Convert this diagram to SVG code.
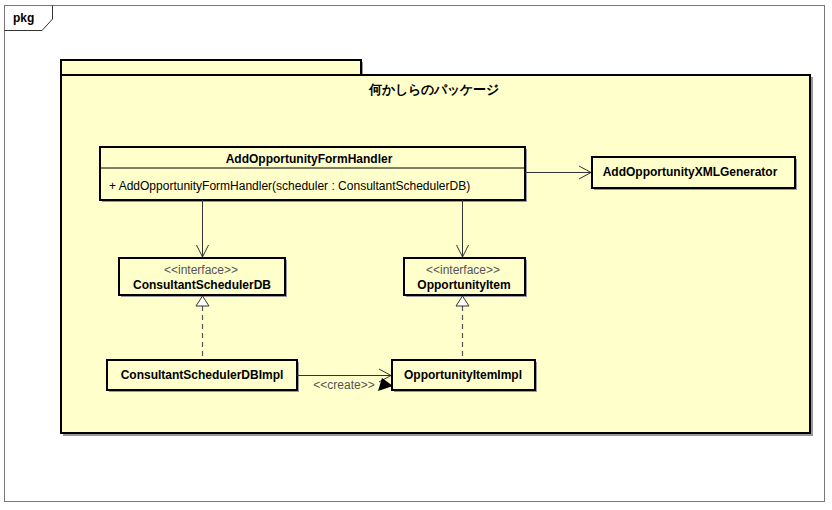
<svg xmlns="http://www.w3.org/2000/svg" width="832" height="510" viewBox="0 0 832 510">
<style>
.box{fill:#FFFFCC;stroke:#000;stroke-width:2}
.sh{fill:#999}
.b{font-family:"Liberation Sans",Arial,sans-serif;font-size:12px;font-weight:bold;fill:#000}
.n{font-family:"Liberation Sans",Arial,sans-serif;font-size:12px;fill:#000}
.st{font-family:"Liberation Sans",Arial,sans-serif;font-size:12px;fill:#555}
.ln{stroke:#333;stroke-width:1;fill:none}
.dash{stroke:#555;stroke-width:1.2;stroke-dasharray:5,4;fill:none}
</style>
<rect x="0" y="0" width="832" height="510" fill="#fff"/>
<g id="frame">
<rect x="4.5" y="5.5" width="820" height="496" fill="#fff" stroke="#777" stroke-width="1"/>
<path d="M4.5 30.5 H42 L52.5 19 V5.5" fill="none" stroke="#333" stroke-width="1"/>
<text x="13" y="22" class="b">pkg</text>
</g>
<g id="package">
<rect x="63" y="62" width="300" height="15" class="sh"/>
<rect x="63" y="77" width="750" height="359" class="sh"/>
<rect x="61" y="60" width="300" height="15" class="box"/>
<rect x="61" y="75" width="749" height="358" class="box"/>
<text x="434" y="94" text-anchor="middle" class="b" style="font-size:13px" font-family="'Liberation Sans','Noto Sans CJK JP',sans-serif">何かしらのパッケージ</text>
</g>
<g id="AddOpportunityFormHandler">
<rect x="102" y="149" width="425" height="53" class="sh"/>
<rect x="100" y="147" width="425" height="53" class="box"/>
<line x1="100" y1="168" x2="525" y2="168" stroke="#000" stroke-width="1"/>
<text x="309" y="163" text-anchor="middle" class="b">AddOpportunityFormHandler</text>
<text x="109" y="190" class="n">+ AddOpportunityFormHandler(scheduler : ConsultantSchedulerDB)</text>
</g>
<g id="AddOpportunityXMLGenerator">
<rect x="594" y="159" width="203" height="31" class="sh"/>
<rect x="592" y="157" width="203" height="31" class="box"/>
<text x="690" y="176" text-anchor="middle" class="b">AddOpportunityXMLGenerator</text>
</g>
<g id="ConsultantSchedulerDB">
<rect x="121" y="260" width="166" height="37" class="sh"/>
<rect x="119" y="258" width="166" height="37" class="box"/>
<text x="201" y="274" text-anchor="middle" class="st">&lt;&lt;interface&gt;&gt;</text>
<text x="202" y="289" text-anchor="middle" class="b">ConsultantSchedulerDB</text>
</g>
<g id="OpportunityItem">
<rect x="406" y="260" width="121" height="37" class="sh"/>
<rect x="404" y="258" width="121" height="37" class="box"/>
<text x="463" y="274" text-anchor="middle" class="st">&lt;&lt;interface&gt;&gt;</text>
<text x="464" y="289" text-anchor="middle" class="b">OpportunityItem</text>
</g>
<g id="ConsultantSchedulerDBImpl">
<rect x="109" y="362" width="190" height="30" class="sh"/>
<rect x="107" y="360" width="190" height="30" class="box"/>
<text x="202" y="379" text-anchor="middle" class="b">ConsultantSchedulerDBImpl</text>
</g>
<g id="OpportunityItemImpl">
<rect x="394" y="362" width="143" height="30" class="sh"/>
<rect x="392" y="360" width="143" height="30" class="box"/>
<text x="463" y="379" text-anchor="middle" class="b">OpportunityItemImpl</text>
</g>
<g id="connectors">
<path d="M525 172.5 H591 M579 166 L591 172.5 L579 179" class="ln"/>
<path d="M202.5 200 V257 M196.5 245 L202.5 257 L208.5 245" class="ln"/>
<path d="M462.5 200 V257 M456.5 245 L462.5 257 L468.5 245" class="ln"/>
<path d="M202.5 306 V360" class="dash"/>
<polygon points="202.5,296 196,306 209,306" fill="#fff" stroke="#333" stroke-width="1"/>
<path d="M462.5 306 V360" class="dash"/>
<polygon points="462.5,296 456,306 469,306" fill="#fff" stroke="#333" stroke-width="1"/>
<path d="M297 375.5 H391 M379 369 L391 375.5 L379 382" class="ln"/>
<polygon points="378,391 382,378 393,386" fill="#000"/>
<text x="344" y="389" text-anchor="middle" class="st">&lt;&lt;create&gt;&gt;</text>
</g>
</svg>
